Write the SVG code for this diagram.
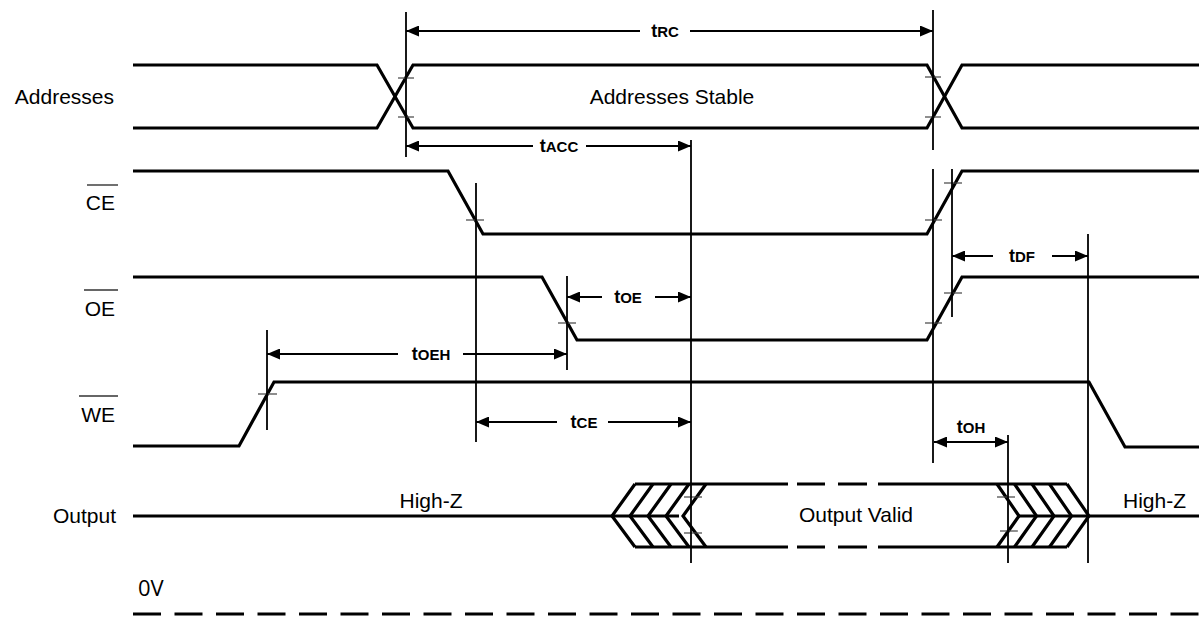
<svg xmlns="http://www.w3.org/2000/svg" width="1199" height="618" viewBox="0 0 1199 618">
<style>
.sig{fill:none;stroke:#000;stroke-width:3.2;stroke-linejoin:miter}
.ref{stroke:#000;stroke-width:1.8;fill:none}
.arr{stroke:#000;stroke-width:2;fill:none;marker-end:url(#ah)}
.tick{stroke:#444;stroke-width:1.2}
.ov{stroke:#333;stroke-width:1.4}
.lbl{font-family:"Liberation Sans",Arial,sans-serif;font-size:21px;fill:#000}
.t{font-family:"Liberation Sans",Arial,sans-serif;font-size:18px;font-weight:bold;fill:#000}
.s{font-size:15px}
.zv{font-family:"Open Sans","Liberation Sans",sans-serif;font-size:22px;fill:#000}
</style>
<defs>
<marker id="ah" viewBox="0 0 13 11" refX="13" refY="5.5" markerWidth="13" markerHeight="11" markerUnits="userSpaceOnUse" orient="auto"><path d="M0,0 L13,5.5 L0,11 z" fill="#000"/></marker>
</defs>
<rect width="1199" height="618" fill="#fff"/>

<g id="addresses">
<text class="lbl" x="114" y="104" text-anchor="end">Addresses</text>
<path class="sig" d="M133,65 H377 L413,128 H927 L962,65 H1199"/>
<path class="sig" d="M133,128 H377 L413,65 H927 L962,128 H1199"/>
<text class="lbl" x="672" y="104" text-anchor="middle">Addresses Stable</text>
<line class="tick" x1="398" y1="78" x2="414" y2="78"/>
<line class="tick" x1="398" y1="117" x2="414" y2="117"/>
<line class="tick" x1="925" y1="77" x2="941" y2="77"/>
<line class="tick" x1="925" y1="117" x2="941" y2="117"/>
</g>

<g id="ce">
<text class="lbl" x="115" y="210" text-anchor="end">CE</text>
<line class="ov" x1="87" y1="185" x2="118" y2="185"/>
<path class="sig" d="M133,171 H448 L483,234 H927 L962,171 H1199"/>
<line class="tick" x1="466" y1="220" x2="484" y2="220"/>
<line class="tick" x1="925" y1="220" x2="942" y2="220"/>
<line class="tick" x1="944" y1="183" x2="962" y2="183"/>
</g>

<g id="oe">
<text class="lbl" x="115" y="316" text-anchor="end">OE</text>
<line class="ov" x1="84" y1="290" x2="118" y2="290"/>
<path class="sig" d="M133,277 H542 L577,340 H927 L962,277 H1199"/>
<line class="tick" x1="558" y1="323" x2="576" y2="323"/>
<line class="tick" x1="925" y1="323" x2="942" y2="323"/>
<line class="tick" x1="944" y1="293" x2="962" y2="293"/>
</g>

<g id="we">
<text class="lbl" x="115" y="422" text-anchor="end">WE</text>
<line class="ov" x1="79" y1="396" x2="118" y2="396"/>
<path class="sig" d="M133,446 H239 L274,382 H1089 L1125,447 H1199"/>
<line class="tick" x1="258" y1="394" x2="277" y2="394"/>
</g>

<g id="output">
<text class="lbl" x="116" y="523" text-anchor="end">Output</text>
<text class="lbl" x="431" y="508" text-anchor="middle">High-Z</text>
<text class="lbl" x="856" y="522" text-anchor="middle">Output Valid</text>
<text class="lbl" x="1123" y="508">High-Z</text>
<path class="sig" d="M133,516 H679"/>
<path class="sig" d="M635,484 L612,516 L635,547 M653,484 L630,516 L653,547 M671,484 L648,516 L671,547 M689,484 L666,516 L689,547 M706,484 L683,516 L706,547"/>
<path class="sig" d="M635,484 H788 M797,484 H825 M838,484 H867 M878,484 H1067"/>
<path class="sig" d="M635,547 H788 M797,547 H825 M838,547 H867 M878,547 H1067"/>
<path class="sig" d="M997,484 L1019,516 L997,547 M1014.5,484 L1036.5,516 L1014.5,547 M1032,484 L1054,516 L1032,547 M1049.5,484 L1071.5,516 L1049.5,547 M1067,484 L1089,516 L1067,547"/>
<path class="sig" d="M1019,516 H1199"/>
<line class="tick" x1="684" y1="497" x2="702" y2="497"/>
<line class="tick" x1="684" y1="533" x2="702" y2="533"/>
<line class="tick" x1="997" y1="497" x2="1015" y2="497"/>
<line class="tick" x1="1000" y1="531" x2="1018" y2="531"/>
</g>

<g id="zero-volt">
<text class="zv" x="138" y="596">0V</text>
<line x1="133" y1="614" x2="1199" y2="614" stroke="#000" stroke-width="3.2" stroke-dasharray="28 13.5"/>
</g>

<g id="connectors">
<line class="ref" x1="406" y1="12" x2="406" y2="157"/>
<line class="ref" x1="933" y1="10" x2="933" y2="150"/>
<line class="ref" x1="933" y1="169" x2="933" y2="463"/>
<line class="ref" x1="691" y1="140" x2="691" y2="563"/>
<line class="ref" x1="476" y1="183" x2="476" y2="442"/>
<line class="ref" x1="567" y1="276" x2="567" y2="370"/>
<line class="ref" x1="267" y1="330" x2="267" y2="430"/>
<line class="ref" x1="952" y1="169" x2="952" y2="317"/>
<line class="ref" x1="1088" y1="234" x2="1088" y2="563"/>
<line class="ref" x1="1008" y1="435" x2="1008" y2="563"/>

<line class="arr" x1="640" y1="31" x2="406" y2="31"/>
<line class="arr" x1="690" y1="31" x2="933" y2="31"/>
<text class="t" x="665" y="37" text-anchor="middle">t<tspan class="s">RC</tspan></text>

<line class="arr" x1="533" y1="146" x2="406" y2="146"/>
<line class="arr" x1="586" y1="146" x2="691" y2="146"/>
<text class="t" x="559" y="152" text-anchor="middle">t<tspan class="s">ACC</tspan></text>

<line class="arr" x1="602" y1="297" x2="567" y2="297"/>
<line class="arr" x1="655" y1="297" x2="691" y2="297"/>
<text class="t" x="628" y="303" text-anchor="middle">t<tspan class="s">OE</tspan></text>

<line class="arr" x1="398" y1="354" x2="267" y2="354"/>
<line class="arr" x1="463" y1="354" x2="567" y2="354"/>
<text class="t" x="431" y="360" text-anchor="middle">t<tspan class="s">OEH</tspan></text>

<line class="arr" x1="557" y1="422" x2="476" y2="422"/>
<line class="arr" x1="608" y1="422" x2="691" y2="422"/>
<text class="t" x="584" y="428" text-anchor="middle">t<tspan class="s">CE</tspan></text>

<line class="arr" x1="993" y1="256" x2="952" y2="256"/>
<line class="arr" x1="1052" y1="256" x2="1088" y2="256"/>
<text class="t" x="1022" y="262" text-anchor="middle">t<tspan class="s">DF</tspan></text>

<line class="arr" x1="970" y1="442" x2="934" y2="442"/>
<line class="arr" x1="970" y1="442" x2="1008" y2="442"/>
<text class="t" x="971" y="433" text-anchor="middle">t<tspan class="s">OH</tspan></text>
</g>
</svg>
